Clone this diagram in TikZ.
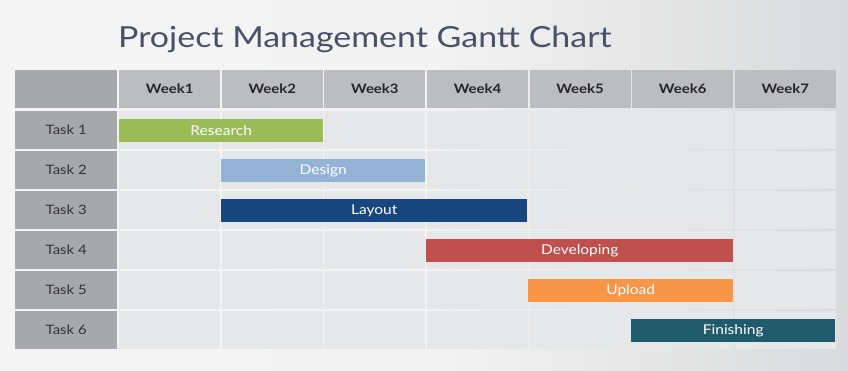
\documentclass[tikz,border=0pt]{standalone}
\usepackage{fontspec}
\setmainfont{Lato}[FakeStretch=1.15]
\newfontfamily\titlefont{Lato}[FakeStretch=1.17]
\definecolor{bgL}{HTML}{F4F4F4}
\definecolor{bgR}{HTML}{D9DADB}
\definecolor{titlec}{HTML}{4A5068}
\definecolor{labc}{HTML}{A7A8AB}
\definecolor{headc}{HTML}{BCBDC0}
\definecolor{cellc}{HTML}{E6E7E8}
\definecolor{cRes}{HTML}{9BBB59}
\definecolor{cDes}{HTML}{95B3D7}
\definecolor{cLay}{HTML}{17477E}
\definecolor{cDev}{HTML}{C0504D}
\definecolor{cUpl}{HTML}{F79646}
\definecolor{cFin}{HTML}{1F5B6A}
\definecolor{txtc}{HTML}{333333}
\tikzset{
  cellbox/.style={draw=none,fill=cellc,minimum width=102pt,minimum height=38pt,inner sep=0pt,anchor=north west},
  labbox/.style={draw=none,fill=labc,minimum width=102pt,minimum height=38pt,inner sep=0pt,anchor=north west,font=\fontsize{13}{15}\selectfont,text=txtc},
  headbox/.style={draw=none,fill=headc,minimum width=102pt,minimum height=38pt,inner sep=0pt,anchor=north west,font=\fontsize{13}{15}\selectfont\bfseries,text=black!85},
  bar/.style={draw=none,inner sep=0pt,minimum height=23pt,anchor=north west,font=\fontsize{13.5}{15}\selectfont,text=white}
}
\begin{document}
\begin{tikzpicture}[x=1pt,y=-1pt]
\useasboundingbox (0,0) rectangle (848,371);
\shade[left color=bgL,right color=bgR,middle color=bgL!97!bgR] (0,0) rectangle (848,371);
\node[text=titlec,font=\titlefont\fontsize{29}{32}\selectfont,anchor=base west,inner sep=0pt] (title) at (118,48) {Project Management Gantt Chart};
% header
\node[headbox,fill=labc,minimum width=102pt] (corner) at (15,70) {};
\foreach \i in {1,...,7}{
  \pgfmathsetmacro{\xx}{119+(\i-1)*102.6}
  \node[headbox,minimum width=101pt] (w\i) at (\xx,70) {Week\i};
}
% rows
\foreach \r in {1,...,6}{
  \pgfmathsetmacro{\yy}{111+(\r-1)*40}
  \node[labbox] (t\r) at (15,\yy) {Task \r};
  \foreach \i in {1,...,7}{
    \pgfmathsetmacro{\xx}{119+(\i-1)*102.6}
    \node[cellbox,minimum width=101pt] (c\r-\i) at (\xx,\yy) {};
  }
}
% bars
\node[bar,fill=cRes,minimum width=204pt] (b1) at (119,119) {Research};
\node[bar,fill=cDes,minimum width=204pt] (b2) at (221,159) {Design};
\node[bar,fill=cLay,minimum width=306pt] (b3) at (221,199) {Layout};
\node[bar,fill=cDev,minimum width=307pt] (b4) at (426,239) {Developing};
\node[bar,fill=cUpl,minimum width=205pt] (b5) at (528,279) {Upload};
\node[bar,fill=cFin,minimum width=204pt] (b6) at (631,319) {Finishing};
\end{tikzpicture}
\end{document}
